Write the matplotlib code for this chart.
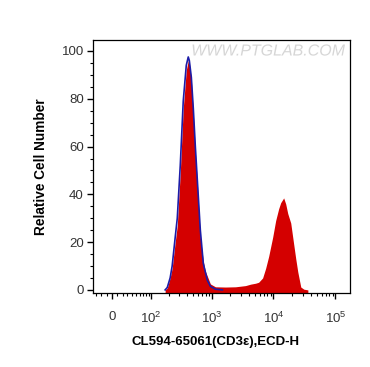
import matplotlib
matplotlib.use("Agg")
import matplotlib.pyplot as plt
import matplotlib.patheffects as pe
import numpy as np

plt.rcParams["font.family"] = ["Liberation Sans", "DejaVu Sans"]
plt.rcParams["mathtext.fontset"] = "custom"
plt.rcParams["mathtext.rm"] = "Liberation Sans"
plt.rcParams["mathtext.default"] = "regular"

# fluorescence intensity (CL594 / ECD-H) and relative cell counts
sample_x = [175, 190, 212, 229, 257, 278, 311, 348, 390, 420, 437, 471, 507,
            547, 589, 659, 737, 790, 958, 1155, 1680, 2440, 3540, 4270, 5150,
            5760, 6680, 7470, 8360, 9700, 10850, 12140, 13080, 14620, 15760,
            16990, 19000, 21240, 22900, 24700, 27600, 30900, 35900]
sample_y = [0, 0.8, 5, 9, 20, 27, 49, 76, 92, 96, 95, 88, 74,
            58, 45, 22, 12, 8, 2.5, 1.3, 1.2, 1.3, 1.8, 2.4, 2.8,
            3.2, 5, 9, 14, 22, 29, 34, 36.5, 38.5, 36,
            32, 28, 19, 13, 7.5, 1.2, 0.3, 0]

isotype_x = [175, 190, 212, 229, 257, 278, 311, 348, 390, 420, 437, 471, 507,
             547, 589, 659, 737, 856, 958, 1155, 1500]
isotype_y = [0, 1, 5, 10, 22, 30, 52, 79, 94, 97.5, 96, 89, 76,
             60, 46, 25, 11, 4, 1.5, 0.3, 0]

x_major = [0, 1e2, 1e3, 1e4, 1e5]
x_labels = ["0", "$10^{2}$", "$10^{3}$", "$10^{4}$", "$10^{5}$"]
x_minor = ([-30, -20, -10] + list(range(10, 100, 10))
           + [m * 10 ** k for k in (2, 3, 4) for m in range(2, 10)])

W = 24.7  # width of the linear region around zero


def fwd(x):
    return np.arcsinh(np.asarray(x, dtype=float) / (2 * W)) / np.log(10)


def inv(t):
    return 2 * W * np.sinh(np.asarray(t, dtype=float) * np.log(10))


fig = plt.figure(figsize=(3.70, 3.67), dpi=100)
ax = fig.add_axes([0.251, 0.2016, 0.695, 0.6894])
ax.set_xscale("function", functions=(fwd, inv))

ax.fill_between(sample_x, sample_y, -5, color="#d40000", linewidth=0, zorder=2)
ax.plot(isotype_x, isotype_y, color="#1c1ca8", linewidth=1.2, zorder=3)

ax.set_xlim(-38, 172000)
ax.set_ylim(-1.3, 104.6)

ax.set_xticks(x_major)
ax.set_xticklabels(x_labels)
ax.set_xticks(x_minor, minor=True)
ax.set_yticks([0, 20, 40, 60, 80, 100])
ax.set_yticks(range(5, 105, 5), minor=True)

ax.tick_params(which="major", length=4.5, width=1, labelsize=9.5,
               labelcolor="#333333", pad=2)
ax.tick_params(axis="x", which="major", pad=8.5)
ax.tick_params(which="minor", length=2.5, width=0.8)
for s in ax.spines.values():
    s.set_linewidth(0.9)

ax.set_xlabel("CL594-65061(CD3ε),ECD-H", fontsize=9.5, fontweight="bold",
              labelpad=6)
ax.xaxis.set_label_coords(0.475, -0.17)
ax.set_ylabel("Relative Cell Number", fontsize=9.8, fontweight="bold",
              labelpad=10)

fig.text(0.725, 0.861, "WWW.PTGLAB.COM", fontsize=11.5, style="italic",
         color="#d6d6d6", ha="center", va="center",
         path_effects=[pe.withStroke(linewidth=1.5, foreground="white")])

fig.savefig("out.png", dpi=100)
